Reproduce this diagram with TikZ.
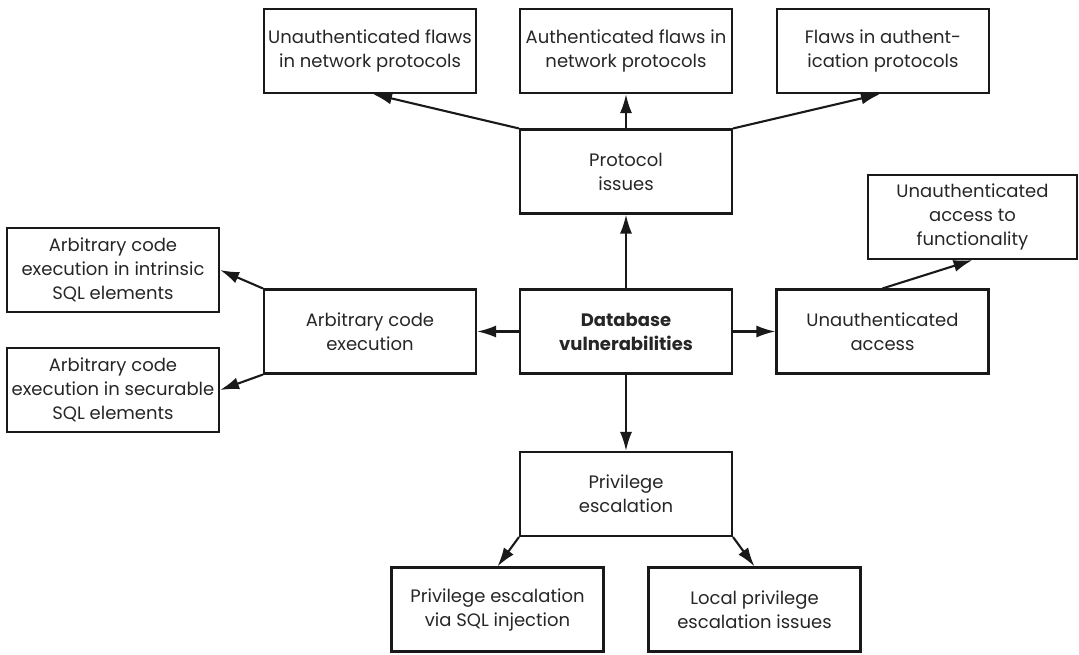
\documentclass[tikz,border=0pt]{standalone}
\usepackage{fontspec}
\setmainfont{Poppins}
\usetikzlibrary{arrows.meta}
\begin{document}
\begin{tikzpicture}[x=1pt,y=-1pt,
  box/.style={draw=black!90, line width=2.1pt, minimum width=212pt, minimum height=84pt,
    align=center, inner sep=1pt, font=\fontsize{18}{24}\selectfont, text=black!85},
  conn/.style={line width=2.1pt, draw=black!90, -{Latex[length=19pt,width=12pt]}}]
\useasboundingbox (0,0) rectangle (1079,654);
\node[box] (uf) at (370,51) {Unauthenticated flaws\\in network protocols};
\node[box] (af) at (626,51) {Authenticated flaws in\\network protocols};
\node[box] (fa) at (883,51) {Flaws in authent-\\ication protocols};
\node[box] (pi) at (626,171.5) {Protocol\\issues};
\node[box] (db) at (626,331.5) {\bfseries Database\\\bfseries vulnerabilities};
\node[box] (ace) at (370,331.5) {Arbitrary code\\execution};
\node[box] (ua) at (882.5,331.5) {Unauthenticated\\access};
\node[box, minimum width=209pt] (uaf) at (972.5,217) {Unauthenticated\\access to\\functionality};
\node[box] (aci) at (113,270) {Arbitrary code\\execution in intrinsic\\SQL elements};
\node[box] (acs) at (113,390) {Arbitrary code\\execution in securable\\SQL elements};
\node[box] (pe) at (626,494) {Privilege\\escalation};
\node[box] (psql) at (497.5,609.5) {Privilege escalation\\via SQL injection};
\node[box] (lp) at (754.5,609.5) {Local privilege\\escalation issues};
\draw[conn] (pi.north west) -- ([xshift=3pt]uf.south);
\draw[conn] (pi.north) -- (af.south);
\draw[conn] (pi.north east) -- ([xshift=-3pt]fa.south);
\draw[conn] (db.north) -- (pi.south);
\draw[conn] (db.south) -- (pe.north);
\draw[conn] (db.west) -- (ace.east);
\draw[conn] (db.east) -- (ua.west);
\draw[conn] (ace.north west) -- (aci.east);
\draw[conn] (ace.south west) -- (acs.east);
\draw[conn] (ua.north) -- (uaf.south);
\draw[conn] (pe.south west) -- (psql.north);
\draw[conn] (pe.south east) -- (lp.north);
\end{tikzpicture}
\end{document}
